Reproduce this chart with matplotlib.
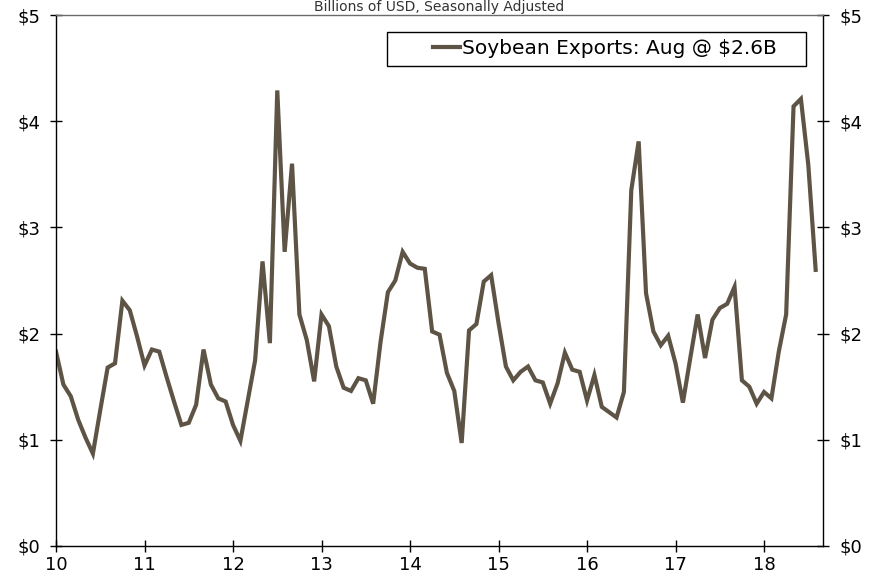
import numpy as np
import matplotlib
matplotlib.use("Agg")
import matplotlib.pyplot as plt
from matplotlib.patches import Rectangle

# monthly soybean exports, billions of USD (Jan 2010 - Aug 2018)
exports_2010 = [1.83, 1.52, 1.41, 1.19, 1.02, 0.87, 1.28, 1.68, 1.72, 2.31, 2.22, 1.97]
exports_2011 = [1.70, 1.85, 1.83, 1.59, 1.36, 1.14, 1.16, 1.33, 1.85, 1.52, 1.39, 1.36]
exports_2012 = [1.14, 0.99, 1.37, 1.75, 2.68, 1.91, 4.29, 2.77, 3.60, 2.18, 1.94, 1.55]
exports_2013 = [2.18, 2.07, 1.69, 1.49, 1.46, 1.58, 1.56, 1.34, 1.92, 2.39, 2.50, 2.77]
exports_2014 = [2.66, 2.62, 2.61, 2.02, 1.99, 1.63, 1.46, 0.97, 2.03, 2.09, 2.49, 2.55]
exports_2015 = [2.10, 1.69, 1.56, 1.64, 1.69, 1.56, 1.54, 1.34, 1.53, 1.82, 1.66, 1.64]
exports_2016 = [1.37, 1.61, 1.31, 1.26, 1.21, 1.45, 3.35, 3.81, 2.38, 2.02, 1.89, 1.98]
exports_2017 = [1.72, 1.35, 1.77, 2.18, 1.77, 2.13, 2.24, 2.28, 2.44, 1.56, 1.50, 1.34]
exports_2018 = [1.45, 1.39, 1.83, 2.18, 4.14, 4.21, 3.59, 2.60]

year_ticks = [10, 11, 12, 13, 14, 15, 16, 17, 18]
year_labels = ["10", "11", "12", "13", "14", "15", "16", "17", "18"]
dollar_ticks = [0, 1, 2, 3, 4, 5]
dollar_labels = ["$0", "$1", "$2", "$3", "$4", "$5"]

values = (exports_2010 + exports_2011 + exports_2012 + exports_2013 + exports_2014
          + exports_2015 + exports_2016 + exports_2017 + exports_2018)
n = len(values)
x = 10 + np.arange(n) / 12.0

line_color = "#5e5446"
plt.rcParams["font.family"] = ["DejaVu Sans"]

fig = plt.figure(figsize=(8.78, 5.84), dpi=100)
ax = fig.add_axes([0.0638, 0.0651, 0.8736, 0.9092])

label = f"Soybean Exports: Aug @ ${values[-1]:.1f}B"
ax.plot(x, values, color=line_color, lw=3, solid_joinstyle="miter", label=label)

ax.set_xlim(10, 10 + n / 12.0)
ax.set_ylim(0, 5)
ax.set_xticks(year_ticks)
ax.set_xticklabels(year_labels)
ax.set_yticks(dollar_ticks)
ax.set_yticklabels(dollar_labels)

ax.tick_params(axis="both", labelsize=13, direction="inout", length=9, width=1, colors="black")
ax.tick_params(axis="y", pad=7, right=True, labelright=True)
ax.tick_params(axis="x", pad=3)

for side in ["left", "right", "bottom"]:
    ax.spines[side].set_color("black")
    ax.spines[side].set_linewidth(1)
ax.spines["top"].set_color("#6b6b6b")
ax.spines["top"].set_linewidth(1)

# legend box drawn separately so the entry sits off-centre like the original
ax.add_patch(Rectangle((0.4316, 0.904), 0.546, 0.064, transform=ax.transAxes,
                       fill=False, edgecolor="black", lw=1, zorder=5))
ax.legend(loc="center left", bbox_to_anchor=(0.492, 0.936), frameon=False,
          fontsize=14.5, handlelength=1.3, handletextpad=0.12,
          borderpad=0, borderaxespad=0)

fig.text(0.5005, 1 - 11 / 584, "Billions of USD, Seasonally Adjusted",
         ha="center", va="baseline", fontsize=10, color="#333333")

fig.savefig("out.png", dpi=100)
plt.close(fig)
